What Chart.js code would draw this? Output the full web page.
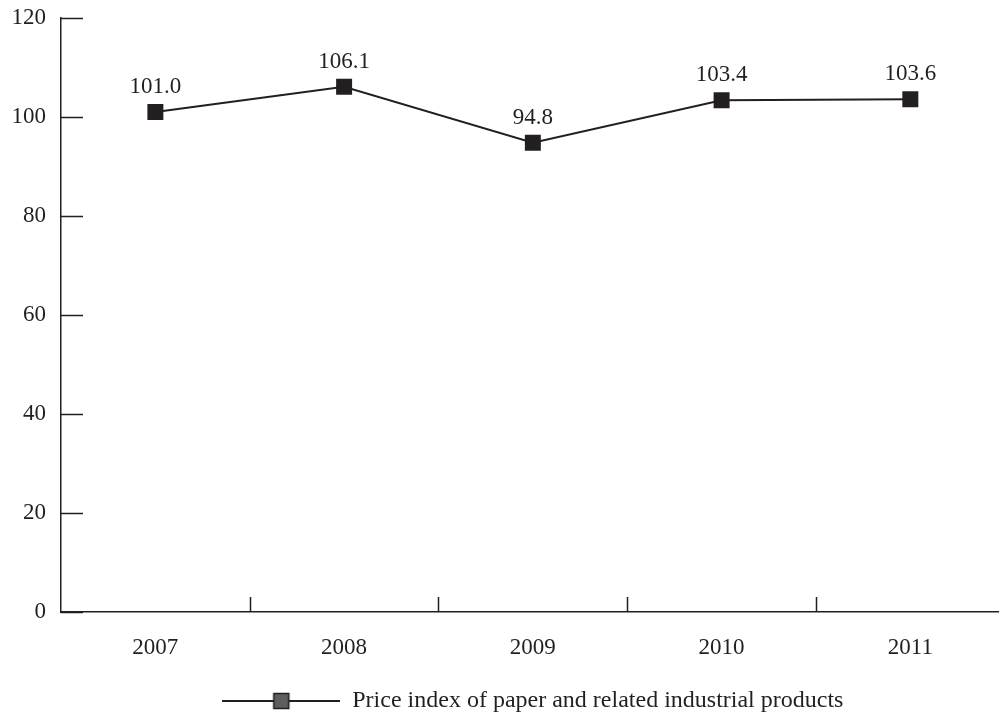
<!DOCTYPE html>
<html>
  <head>
    <script src="https://cdn.jsdelivr.net/npm/chart.js"></script>
    <style>
      body {
        margin: 0;
        padding: 0;
        overflow: hidden;
        background: #ffffff;
      }
      canvas {
        display: block;
      }
    </style>
  </head>
  <body>
    <canvas id="lineChart" width="1016" height="714"></canvas>
    <script>
      const years = ["2007", "2008", "2009", "2010", "2011"];
      const priceIndex = [101.0, 106.1, 94.8, 103.4, 103.6];
      const seriesLabel = "Price index of paper and related industrial products";
      const yTicks = [0, 20, 40, 60, 80, 100, 120];

      const ink = "#231f20";
      const fontFamily = "'Liberation Serif', 'Times New Roman', serif";

      // legend symbol: line with a grey square in the middle
      function legendSymbol() {
        const c = document.createElement("canvas");
        c.width = 118;
        c.height = 20;
        const g = c.getContext("2d");
        g.strokeStyle = ink;
        g.lineWidth = 2;
        g.beginPath();
        g.moveTo(0, 10);
        g.lineTo(118, 10);
        g.stroke();
        g.fillStyle = "#5e5e5e";
        g.fillRect(51, 2, 16, 16);
        g.lineWidth = 1.5;
        g.strokeRect(51.5, 2.5, 15, 15);
        return c;
      }

      // ticks drawn inward, as in the printed figure
      const inwardTicks = {
        id: "inwardTicks",
        afterDraw(chart) {
          const ctx = chart.ctx;
          const area = chart.chartArea;
          const x = chart.scales.x;
          const y = chart.scales.y;
          ctx.save();
          ctx.strokeStyle = ink;
          ctx.lineWidth = 1.5;
          ctx.beginPath();
          yTicks.forEach((v) => {
            const py = Math.round(y.getPixelForValue(v)) + 0.5;
            ctx.moveTo(area.left, py);
            ctx.lineTo(area.left + 22, py);
          });
          for (let i = 1; i < years.length; i++) {
            const px = Math.round((x.getPixelForTick(i - 1) + x.getPixelForTick(i)) / 2) + 0.5;
            ctx.moveTo(px, area.bottom);
            ctx.lineTo(px, area.bottom - 15);
          }
          ctx.stroke();
          ctx.restore();
        },
      };

      // value labels above the markers
      const valueLabels = {
        id: "valueLabels",
        afterDatasetsDraw(chart) {
          const ctx = chart.ctx;
          const meta = chart.getDatasetMeta(0);
          ctx.save();
          ctx.fillStyle = ink;
          ctx.font = "23px " + fontFamily;
          ctx.textAlign = "center";
          ctx.textBaseline = "middle";
          meta.data.forEach((pt, i) => {
            ctx.fillText(priceIndex[i].toFixed(1), pt.x, pt.y - 25);
          });
          ctx.restore();
        },
      };

      const ctx = document.getElementById("lineChart").getContext("2d");
      new Chart(ctx, {
        type: "line",
        data: {
          labels: years,
          datasets: [
            {
              label: seriesLabel,
              data: priceIndex,
              borderColor: ink,
              borderWidth: 2,
              backgroundColor: ink,
              pointStyle: "rect",
              pointRadius: 11.3,
              pointBorderWidth: 0,
              pointBackgroundColor: ink,
              tension: 0,
            },
          ],
        },
        options: {
          responsive: false,
          animation: false,
          layout: { padding: { top: 18, left: 0, right: 0, bottom: -9 } },
          plugins: {
            tooltip: { enabled: false },
            legend: {
              position: "bottom",
              fullSize: false,
              labels: {
                usePointStyle: true,
                pointStyleWidth: 118,
                padding: 5,
                color: ink,
                font: { family: fontFamily, size: 24 },
                generateLabels: () => [
                  { text: seriesLabel, pointStyle: legendSymbol(), fontColor: ink, lineWidth: 0 },
                ],
              },
            },
          },
          scales: {
            x: {
              offset: true,
              grid: { display: true, drawOnChartArea: false, drawTicks: false },
              border: { color: ink, width: 1.5 },
              ticks: { color: ink, padding: 22, font: { family: fontFamily, size: 23 } },
              afterFit: (s) => { s.height = 72; s.paddingLeft = 0; s.paddingRight = 0; },
            },
            y: {
              min: 0,
              max: 120,
              afterBuildTicks: (s) => { s.ticks = yTicks.map((v) => ({ value: v })); },
              grid: { display: true, drawOnChartArea: false, drawTicks: false },
              border: { color: ink, width: 1.5 },
              ticks: { color: ink, padding: 15, font: { family: fontFamily, size: 23 } },
              afterFit: (s) => { s.width = 61; s.paddingTop = 0; s.paddingBottom = 0; },
            },
          },
        },
        plugins: [inwardTicks, valueLabels],
      });
    </script>
  </body>
</html>
